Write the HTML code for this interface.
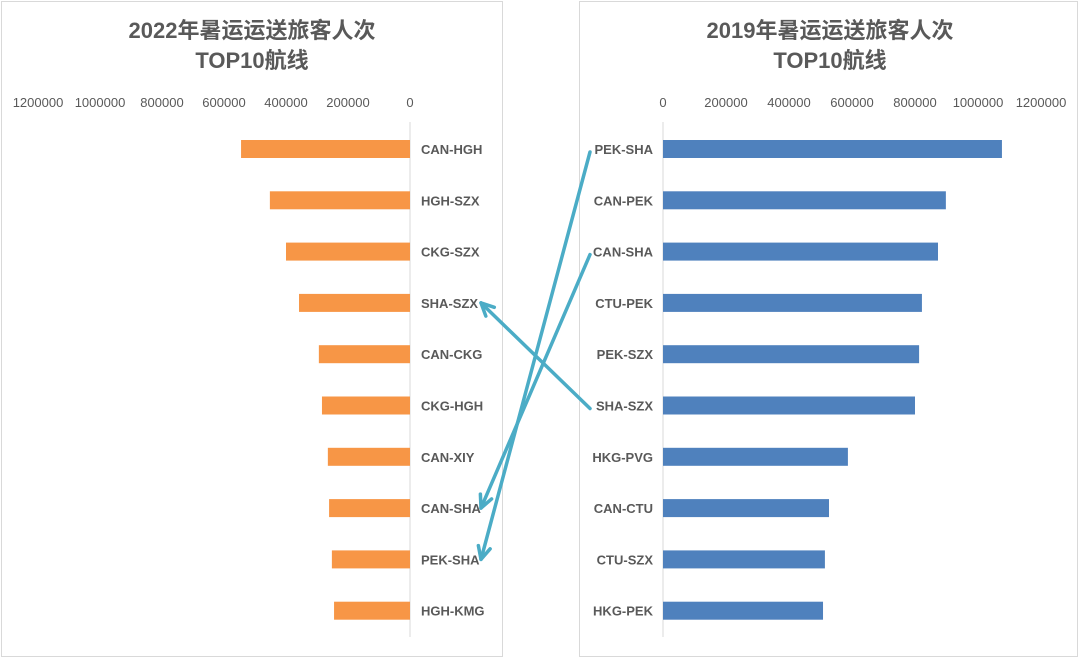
<!DOCTYPE html>
<html><head><meta charset="utf-8"><style>
body{margin:0;background:#fff;}
svg{display:block;font-family:"Liberation Sans","Noto Sans CJK SC",sans-serif;}
</style></head><body>
<svg id="c" width="1080" height="659" viewBox="0 0 1080 659">
<rect x="1.5" y="1.5" width="501" height="655" fill="#fff" stroke="#d9d9d9"/>
<rect x="579.5" y="1.5" width="498" height="655" fill="#fff" stroke="#d9d9d9"/>
<text x="252" y="38" text-anchor="middle" font-size="22" font-weight="bold" fill="#595959">2022年暑运运送旅客人次</text>
<text x="252" y="68" text-anchor="middle" font-size="22" font-weight="bold" fill="#595959">TOP10航线</text>
<text x="830" y="38" text-anchor="middle" font-size="22" font-weight="bold" fill="#595959">2019年暑运运送旅客人次</text>
<text x="830" y="68" text-anchor="middle" font-size="22" font-weight="bold" fill="#595959">TOP10航线</text>
<g id="left"></g><g id="right"></g><g id="arrows"></g>
</svg>
<script>
const leftRoutes=["CAN-HGH","HGH-SZX","CKG-SZX","SHA-SZX","CAN-CKG","CKG-HGH","CAN-XIY","CAN-SHA","PEK-SHA","HGH-KMG"];
const leftValues=[545000,452000,400000,358000,294000,284000,265000,261000,252000,245000];
const rightRoutes=["PEK-SHA","CAN-PEK","CAN-SHA","CTU-PEK","PEK-SZX","SHA-SZX","HKG-PVG","CAN-CTU","CTU-SZX","HKG-PEK"];
const rightValues=[1076000,898000,873000,822000,813000,800000,587000,527000,514000,508000];
const tickValues=[0,200000,400000,600000,800000,1000000,1200000];
const links=[["PEK-SHA","PEK-SHA"],["CAN-SHA","CAN-SHA"],["SHA-SZX","SHA-SZX"]];
const NS="http://www.w3.org/2000/svg";
function mk(t,a,p,txt){const e=document.createElementNS(NS,t);for(const k in a)e.setAttribute(k,a[k]);if(txt!==undefined)e.textContent=txt;p.appendChild(e);return e;}
const rowY=i=>149+i*51.3;
const lx=v=>410-v/1200000*372;
const rx=v=>663+v/1200000*378;
const L=document.getElementById('left'),R=document.getElementById('right'),A=document.getElementById('arrows');
tickValues.forEach(t=>{
 let e=mk('text',{x:lx(t),y:107,'text-anchor':'middle','font-size':13,fill:'#595959'},L,String(t));
 
 
 e=mk('text',{x:rx(t),y:107,'text-anchor':'middle','font-size':13,fill:'#595959'},R,String(t));
 
 
});
let ax=mk('line',{x1:410,x2:410,y1:122,y2:637,stroke:'#d9d9d9'},L);


ax=mk('line',{x1:663,x2:663,y1:122,y2:637,stroke:'#d9d9d9'},R);


leftRoutes.forEach((r,i)=>{
 const y=rowY(i);
 let b=mk('rect',{x:lx(leftValues[i]),y:y-9,width:410-lx(leftValues[i]),height:18,fill:'#f79646'},L);
 
 
 let t=mk('text',{x:421,y:y+5,'font-size':13,'font-weight':'bold',fill:'#595959'},L,r);
 
 
});
rightRoutes.forEach((r,i)=>{
 const y=rowY(i);
 let b=mk('rect',{x:663,y:y-9,width:rx(rightValues[i])-663,height:18,fill:'#4f81bd'},R);
 
 
 let t=mk('text',{x:653,y:y+5,'text-anchor':'end','font-size':13,'font-weight':'bold',fill:'#595959'},R,r);
 
 
});
links.forEach(([from,to])=>{
 const y1=rowY(rightRoutes.indexOf(from))+3, y2=rowY(leftRoutes.indexOf(to));
 const x1=590,x2=481;
 let l=mk('line',{x1:x1,y1:y1,x2:x2,y2:y2,stroke:'#4bacc6','stroke-width':3.5,'stroke-linecap':'round'},A);
 
 
 const ang=Math.atan2(y2-y1,x2-x1),s=14;
 const p=[[x2-s*Math.cos(ang-0.45),y2-s*Math.sin(ang-0.45)],[x2,y2],[x2-s*Math.cos(ang+0.45),y2-s*Math.sin(ang+0.45)]];
 let h=mk('polyline',{points:p.map(q=>q.join(',')).join(' '),fill:'none',stroke:'#4bacc6','stroke-width':3.5,'stroke-linecap':'round','stroke-linejoin':'round'},A);
 
 
});
</script>
</body></html>
